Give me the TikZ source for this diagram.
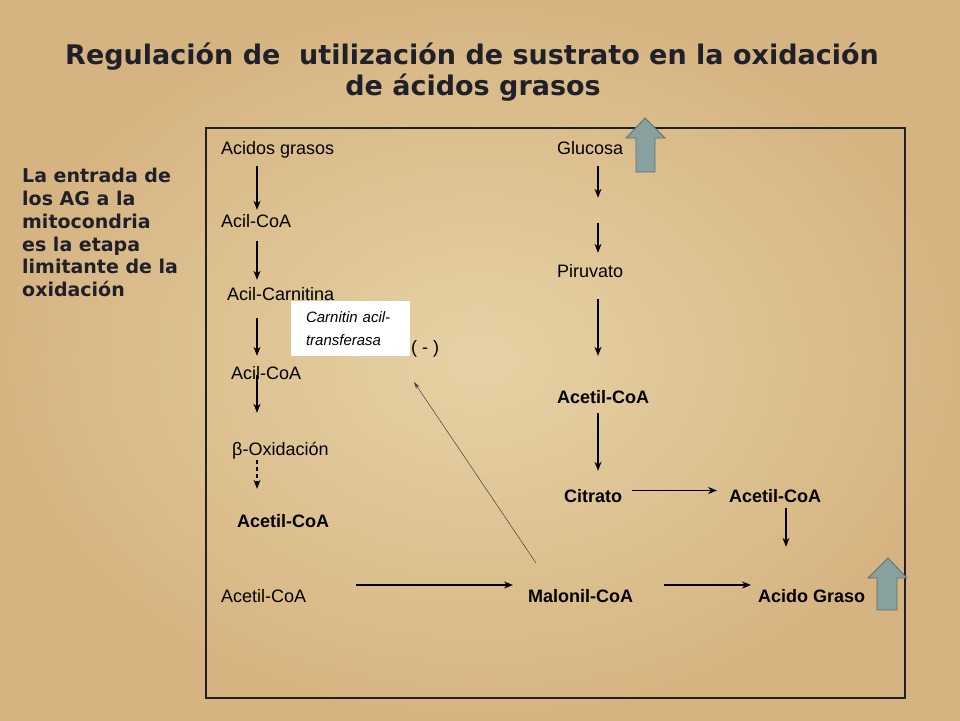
\documentclass[tikz,border=0pt]{standalone}
\usepackage{fontspec}
\setmainfont{Liberation Sans}
\newfontfamily\titulofont{DejaVu Sans}
\usetikzlibrary{arrows.meta,positioning}
\definecolor{papiro}{RGB}{230,210,165}
\definecolor{papiroborde}{RGB}{214,180,130}
\definecolor{tinta}{RGB}{32,32,42}
\definecolor{bloque}{RGB}{136,160,158}
\definecolor{bloqueborde}{RGB}{92,112,110}

\begin{document}
\begin{tikzpicture}[x=1pt,y=-1pt,>=Stealth,
  txt/.style={anchor=base west,inner sep=0pt,text height=13pt,text depth=4pt,font=\fontsize{18}{20}\selectfont},
  btxt/.style={txt,font=\fontsize{18}{20}\selectfont\bfseries},
  titulo/.style={anchor=base,inner sep=0pt,text=tinta,font=\titulofont\bfseries\fontsize{27}{31}\selectfont},
  flecha/.style={->,line width=1.2pt,>={Stealth[length=9pt,width=7pt]}},
  inhibe/.style={->,line width=0.5pt,draw=black!75,>={Stealth[length=7pt,width=4pt]}},
  subir/.style={fill=bloque,draw=bloqueborde,line width=0.8pt}]
% fondo
\shade[inner color=papiro,outer color=papiroborde] (0,0) rectangle (960,720);
% titulo y nota lateral
\node[titulo] (t1) at (472,64) {Regulación de\ \ utilización de sustrato en la oxidación};
\node[titulo] (t2) at (473,95) {de ácidos grasos};
\node[anchor=north west,inner sep=0pt,align=left,text=tinta,font=\titulofont\bfseries\fontsize{19}{22.8}\selectfont] (nota) at (22,168)
  {La entrada de\\los AG a la\\mitocondria\\es la etapa\\limitante de la\\oxidación};
% marco
\draw[line width=1.3pt,tinta] (206,128) rectangle (905,698);
% columna de acidos grasos
\coordinate (cA) at (257,0);
\node[txt] (ag) at (221,154) {Acidos grasos};
\node[txt] (acoa1) at (221,227) {Acil-CoA};
\node[txt] (acar) at (227,300) {Acil-Carnitina};
\node[txt] (acoa2) at (231,379) {Acil-CoA};
\node[txt] (box) at (232,455) {β-Oxidación};
\node[btxt] (acet1) at (237,527) {Acetil-CoA};
\draw[flecha,shorten <=8pt,shorten >=4pt] (ag.south -| cA) -- (acoa1.north -| cA);
\draw[flecha,shorten <=10pt,shorten >=7pt] (acoa1.south -| cA) -- (acar.north -| cA);
\draw[flecha,shorten <=14pt,shorten >=10pt] (acar.south -| cA) -- (acoa2.north -| cA);
\draw[flecha,shorten >=29pt] (acoa2.center -| cA) -- (box.north -| cA);
\draw[flecha,dashed,dash pattern=on 4pt off 3pt,shorten <=1pt,shorten >=25pt] (box.south -| cA) -- (acet1.north -| cA);
% enzima
\node[fill=white,minimum width=119pt,minimum height=55pt,text width=89pt,inner xsep=15pt,inner ysep=0pt,
  align=left,font=\fontsize{15}{23}\selectfont\itshape] (cat) at (350.5,328.5) {Carnitin acil-\\transferasa};
\node[txt] (menos) at (411,353) {( - )};
% columna de glucosa
\coordinate (cB) at (598,0);
\node[txt] (gl) at (557,154) {Glucosa};
\node[txt] (pir) at (557,277) {Piruvato};
\node[btxt] (acet2) at (557,403) {Acetil-CoA};
\node[btxt] (cit) at (564,502) {Citrato};
\node[btxt] (acet3) at (729,502) {Acetil-CoA};
\draw[flecha,shorten <=8pt,shorten >=66pt] (gl.south -| cB) -- (pir.north -| cB);
\draw[flecha,shorten <=65pt,shorten >=11pt] (gl.south -| cB) -- (pir.north -| cB);
\draw[flecha,shorten <=18pt,shorten >=34pt] (pir.south -| cB) -- (acet2.north -| cB);
\draw[flecha,shorten <=6pt,shorten >=18pt] (acet2.south -| cB) -- (cit.north -| cB);
\draw[flecha,shorten <=10pt,shorten >=12pt] ([yshift=7pt]cit.east) -- ([yshift=7pt]acet3.west);
% sintesis
\coordinate (cC) at (786,0);
\node[txt] (acet4) at (221,602) {Acetil-CoA};
\node[btxt] (mal) at (528,602) {Malonil-CoA};
\node[btxt] (afg) at (758,602) {Acido Graso};
\draw[flecha,shorten <=2pt,shorten >=42pt] (acet3.south -| cC) -- (afg.north -| cC);
\draw[flecha,shorten <=50pt,shorten >=15pt] ([yshift=12.5pt]acet4.east) -- ([yshift=12.5pt]mal.west);
\draw[flecha,shorten <=31pt,shorten >=7pt] ([yshift=12.5pt]mal.east) -- ([yshift=12.5pt]afg.west);
% inhibicion
\coordinate (ini) at (536,563);
\coordinate (fin) at (414,382);
\draw[inhibe] (ini) -- (fin);
% flechas de aumento
\draw[subir] (645,118) -- (665,138) -- (655,138) -- (655,172) -- (636,172) -- (636,138) -- (626,138) -- cycle;
\draw[subir] (888,558) -- (907,578) -- (897,578) -- (897,610) -- (877,610) -- (877,578) -- (868,578) -- cycle;
\end{tikzpicture}
\end{document}
